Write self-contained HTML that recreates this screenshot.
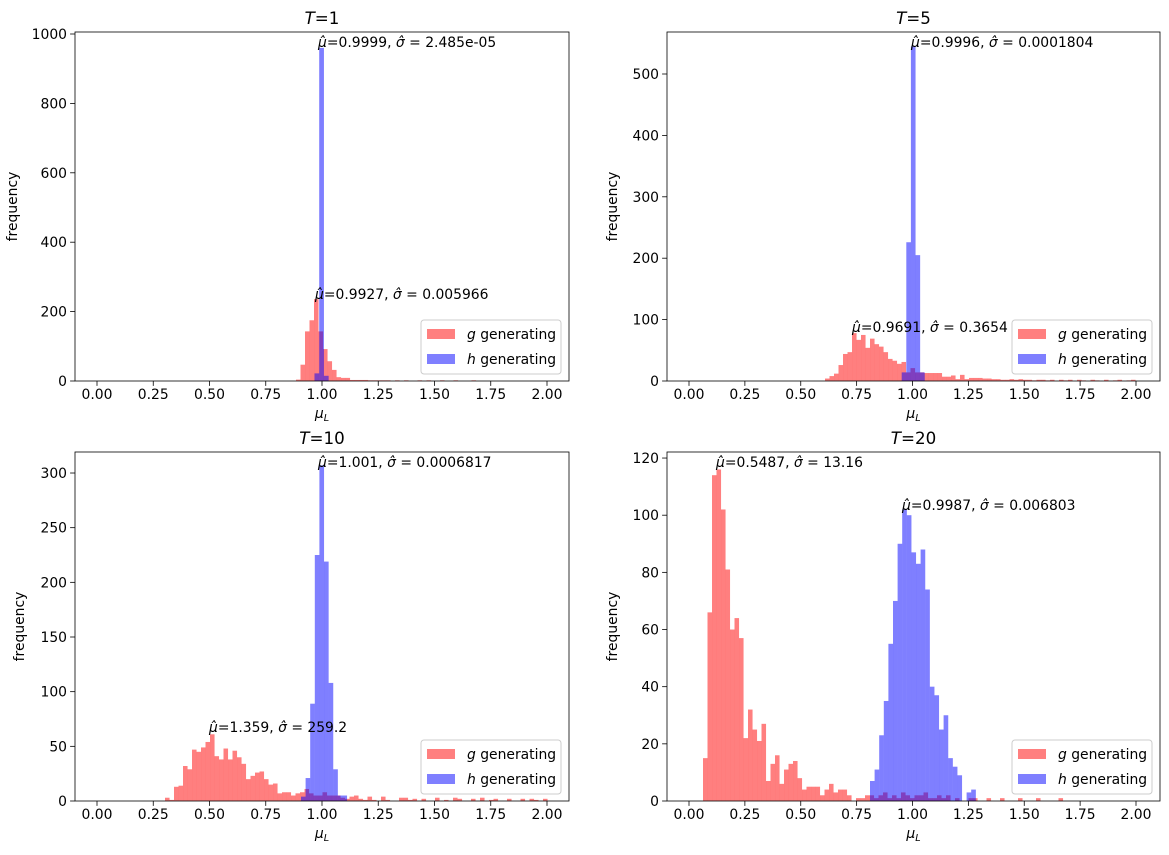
<!DOCTYPE html>
<html><head><meta charset="utf-8"><style>
html,body{margin:0;padding:0;background:#fff;}
svg{display:block;font-family:"DejaVu Sans","Liberation Sans",sans-serif;}
</style></head><body>
<svg id="s" width="1169" height="855" xmlns="http://www.w3.org/2000/svg"></svg>
<script>
const S=document.getElementById('s');let h='';
const R='rgba(255,0,0,0.5)',B='rgba(0,0,255,0.5)';
function bars(x0,w,c,col,base,sc){c.forEach((v,i)=>{if(v>0){const ht=v*sc;h+=`<rect x="${(x0+i*w).toFixed(2)}" y="${(base-ht).toFixed(2)}" width="${(w+0.05).toFixed(2)}" height="${ht.toFixed(2)}" fill="${col}"/>`;}});}
function axes(L,Rt,T,Bt,x0,x2,yt,sc,title,fmt){
 // x ticks
 for(let k=0;k<=8;k++){const v=k*0.25,x=x0+(x2-x0)*v/2;h+=`<line x1="${x}" y1="${Bt}" x2="${x}" y2="${Bt+4.9}" stroke="#000" stroke-width="0.8"/><text x="${x}" y="${Bt+18}" font-size="13.9" text-anchor="middle">${v.toFixed(2)}</text>`;}
 yt.forEach(v=>{const y=Bt-v*sc;h+=`<line x1="${L}" y1="${y}" x2="${L-4.9}" y2="${y}" stroke="#000" stroke-width="0.8"/><text x="${L-8}" y="${y+5}" font-size="13.9" text-anchor="end">${v}</text>`;});
 h+=`<rect x="${L}" y="${T}" width="${Rt-L}" height="${Bt-T}" fill="none" stroke="#000" stroke-width="0.8"/>`;
 h+=`<text x="${(L+Rt)/2}" y="${T-8}" font-size="16.7" text-anchor="middle"><tspan font-style="italic">T</tspan>=${title}</text>`;
 h+=`<text x="${(L+Rt)/2}" y="${Bt+37}" font-size="13.9" text-anchor="middle"><tspan font-style="italic">μ</tspan><tspan font-style="italic" font-size="9.7" dy="3">L</tspan></text>`;
 const yl=fmt;h+=`<text transform="translate(${yl},${(T+Bt)/2}) rotate(-90)" font-size="13.9" text-anchor="middle">frequency</text>`;
 // legend
 const lx=Rt-148,ly=Bt-61;
 h+=`<rect x="${lx}" y="${ly}" width="140" height="54" rx="3" fill="rgba(255,255,255,0.8)" stroke="#ccc" stroke-width="1"/>`;
 h+=`<rect x="${lx+6}" y="${ly+9}" width="28" height="10" fill="${R}"/><rect x="${lx+6}" y="${ly+34}" width="28" height="10" fill="${B}"/>`;
 h+=`<text x="${lx+46}" y="${ly+19}" font-size="13.9"><tspan font-style="italic">g</tspan> generating</text><text x="${lx+46}" y="${ly+44}" font-size="13.9"><tspan font-style="italic">h</tspan> generating</text>`;
}
function ann(x,y,m,s){h+=`<text x="${x}" y="${y}" font-size="13.9"><tspan font-style="italic">μ̂</tspan>=${m}, <tspan font-style="italic">σ̂</tspan> = ${s}</text>`;}

// TL
let sc=0.347,b=381;
bars(296,4.5,[4,47,143,175,236,143,92,57,32,11,9,9,3,3,3,3,2,2,2,2,2,0,2,0,2,0,0,2,0,2,0,0,2,0,0,2,0,0,0,2],R,b,sc);
bars(314.5,4.7,[22,960,15],B,b,sc);
axes(75,569,32,381,97,547,[0,200,400,600,800,1000],sc,'1',17);
ann(318,47,'0.9999','2.485e-05');ann(315,299,'0.9927','0.005966');
// TR
sc=0.614;b=381;
bars(825,4.5,[4,8,12,26,44,47,78,67,75,54,69,60,56,47,36,33,28,31,14,21,14,14,13,13,13,13,7,7,9,3,10,3,5,5,5,4,4,3,3,2,2,3,2,3,2,2,1,2,2,1,2,0,2,1,2,0,2,1,0,2,1,0,2,0,1,2,0,1,2],R,b,sc);
bars(901.7,4.6,[14,226,545,205,14],B,b,sc);
axes(667,1160,32,381,689,1136,[0,100,200,300,400,500],sc,'5',617);
ann(911,47,'0.9996','0.0001804');ann(852,332,'0.9691','0.3654');
// BL
sc=1.0933;b=801;
bars(165,4.5,[3,1,13,14,32,29,47,45,49,54,61,41,38,48,38,46,40,34,20,23,26,27,20,15,16,7,8,8,5,7,8,11,7,5,5,8,5,5,5,3,2,4,5,2,1,4,1,0,4,1,0,0,3,3,1,2,0,2,0,0,3,0,1,0,3,2,0,0,2,0,3,0,1,2,0,0,2,0,0,2,0,2,1,0,2],R,b,sc);
bars(301,4.6,[4,21,89,225,307,219,108,29,5,5],B,b,sc);
axes(75,569,452,801,97,547,[0,50,100,150,200,250,300],sc,'10',24);
ann(318,467,'1.001','0.0006817');ann(209,732,'1.359','259.2');
// BR
sc=2.858;b=801;
bars(703,4.5,[15,66,114,116,102,81,60,64,57,22,32,25,21,27,7,13,16,6,11,13,14,8,4,5,5,5,2,4,6,3,4,4,2,0,1,1,2,2,1,2,3,1,2,1,3,2,1,2,2,3,1,1,2,1,2,0,1,0,0,1,1,0,0,1,0,0,1,0,0,0,1,0,0,0,1,0,0,0,0,1],R,b,sc);
bars(870,4.6,[7,11,23,35,55,70,90,102,100,87,83,88,74,40,37,25,30,15,12,9,0,3,4],B,b,sc);
axes(667,1160,452,801,689,1136,[0,20,40,60,80,100,120],sc,'20',617);
ann(716,467,'0.5487','13.16');ann(902,510,'0.9987','0.006803');
S.innerHTML=h;
</script>
</body></html>
